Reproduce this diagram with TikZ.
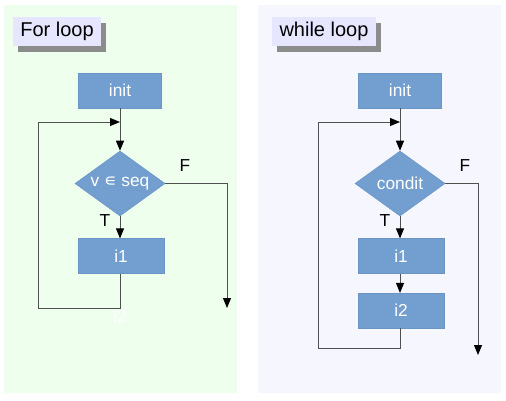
\documentclass[tikz,border=0pt]{standalone}
\usepackage{fontspec}
\setmainfont{Liberation Sans}
\newfontfamily\symfont{DejaVu Sans}
\usetikzlibrary{shapes.geometric,arrows.meta}

\definecolor{boxblue}{HTML}{729FCF}
\definecolor{boxedge}{HTML}{6A96C6}
\definecolor{greenbg}{HTML}{EEFFEE}
\definecolor{lilacbg}{HTML}{F6F6FF}
\definecolor{titlebg}{HTML}{E6E6FF}
\definecolor{wire}{HTML}{505050}

\tikzset{
  stepbox/.style={rectangle,draw=boxedge,fill=boxblue,text=white,
    minimum width=64.5pt,minimum height=26pt,inner sep=0pt,font=\fontsize{13}{15}\selectfont},
  testbox/.style={diamond,draw=boxedge,fill=boxblue,text=white,aspect=1.38,
    minimum width=67.5pt,minimum height=48.75pt,inner sep=0pt,font=\fontsize{13}{15}\selectfont},
  titlebox/.style={rectangle,fill=titlebg,inner sep=0pt,minimum height=21.75pt,
    font=\fontsize{15}{17}\selectfont},
  flow/.style={draw=wire,line width=0.75pt,
    -{Triangle[length=7.5pt,width=6pt,color=black]}},
  wireonly/.style={draw=wire,line width=0.75pt},
  tf/.style={font=\fontsize{13}{15}\selectfont}
}

\begin{document}
\begin{tikzpicture}[x=0.75pt,y=-0.75pt]
\useasboundingbox (0,0) rectangle (506,400);

% panels
\fill[greenbg] (4,5) rectangle (237,393);
\fill[lilacbg] (258,5) rectangle (501,393);

% titles with shadow
\fill[gray!90] (18,23) rectangle (106,52);
\node[titlebox,minimum width=66pt] (fortitle) at (57,31.5) {For loop};
\fill[gray!90] (277,23) rectangle (381,52);
\node[titlebox,minimum width=78pt] (whiletitle) at (324,31.5) {while loop};

% for loop
\node[stepbox,minimum width=62.25pt] (forinit) at (120,90.5) {init};
\node[testbox] (fortest) at (120,183.5) {v {\symfont ∊} seq};
\node[stepbox] (fori1) at (121,256) {i1};
\coordinate (forjoin) at (120,122);
\coordinate (forlow) at (120,316);
\coordinate (forout) at (227,308);

\draw[wireonly] (forinit) -- (forjoin);
\draw[flow] (forjoin) -- (fortest.north);
\draw[flow] (fortest.south) -- (fori1.north -| fortest.south);
\draw[flow] (fori1.south -| forjoin) -- (120,308) -- (38,308) -- (38,122) -- (forjoin);
\draw[flow] (fortest.east) -- (227,183.5) -- (forout);
\node[tf] (fort) at (105,221) {T};
\node[tf] (forf) at (185,166) {F};
\node[stepbox,draw=none,fill=none] (fori2) at (forlow) {i2};

% while loop
\node[stepbox,minimum width=62.25pt] (whinit) at (400,90.5) {init};
\node[testbox] (whtest) at (400,183.5) {condit};
\node[stepbox] (whi1) at (401,256) {i1};
\node[stepbox] (whi2) at (401,310.5) {i2};
\coordinate (whjoin) at (400,122);
\coordinate (whout) at (478,355);

\draw[wireonly] (whinit) -- (whjoin);
\draw[flow] (whjoin) -- (whtest.north);
\draw[flow] (whtest.south) -- (whi1.north -| whtest.south);
\draw[flow] (whi1.south -| whjoin) -- (whi2.north -| whjoin);
\draw[flow] (whi2.south -| whjoin) -- (400,348) -- (318,348) -- (318,122) -- (whjoin);
\draw[flow] (whtest.east) -- (478,183.5) -- (whout);
\node[tf] (wht) at (385,221) {T};
\node[tf] (whf) at (465,166) {F};
\end{tikzpicture}
\end{document}
